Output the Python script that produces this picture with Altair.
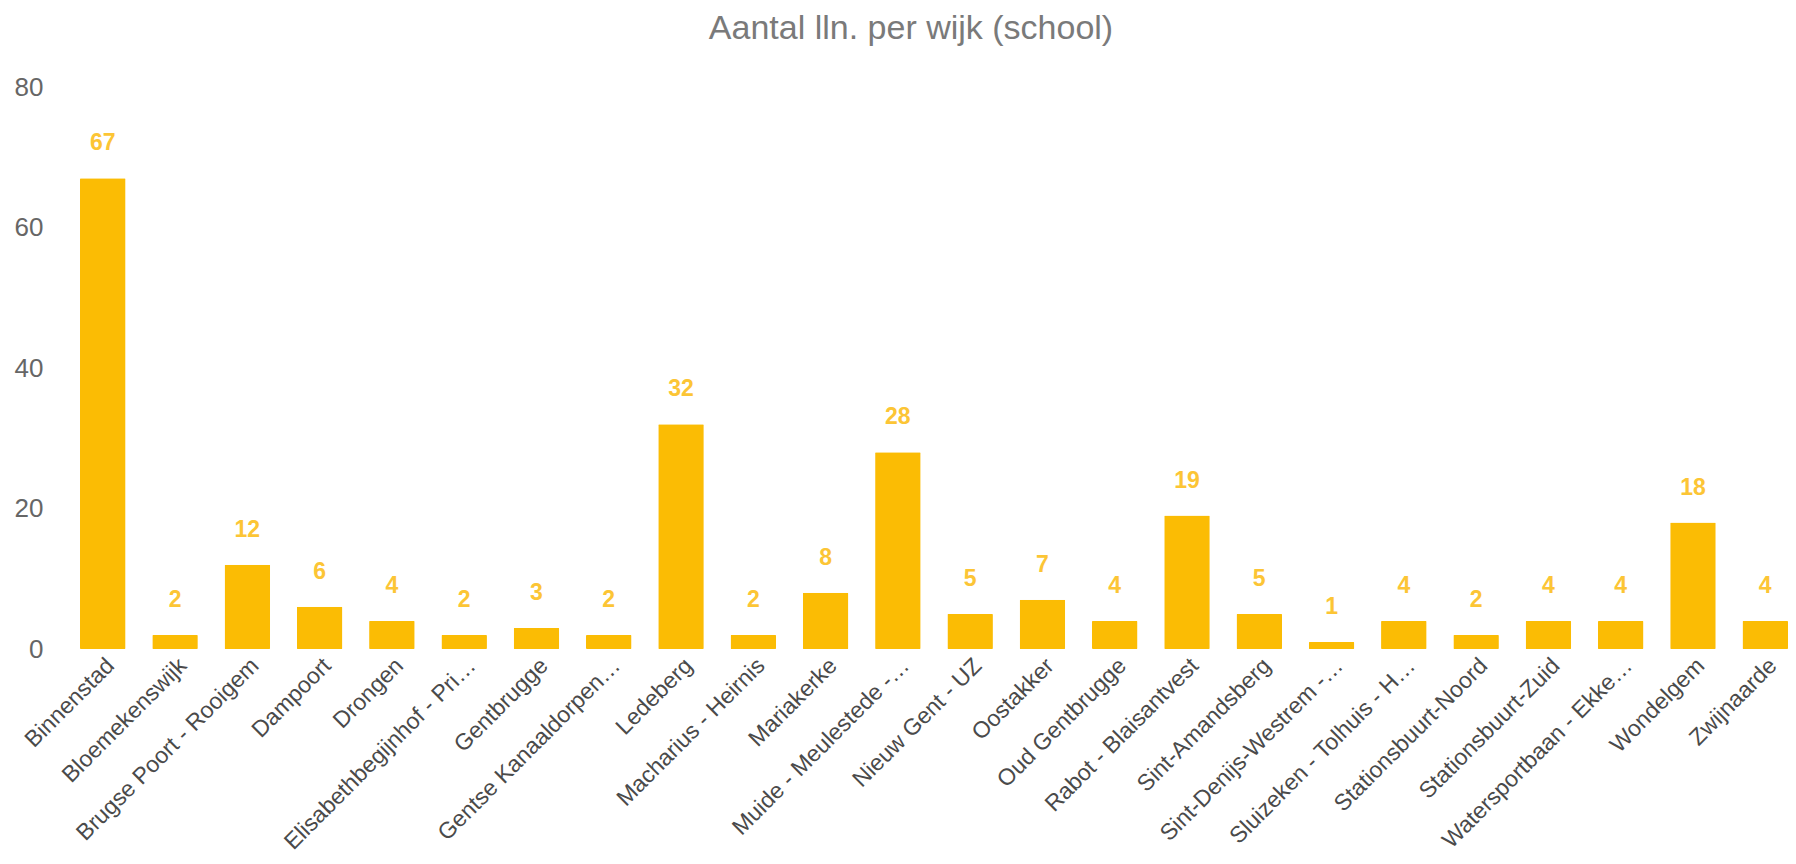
import altair as alt
import pandas as pd

wijken = [
    "Binnenstad", "Bloemekenswijk", "Brugse Poort - Rooigem", "Dampoort", "Drongen",
    "Elisabethbegijnhof - Pri…", "Gentbrugge", "Gentse Kanaaldorpen…", "Ledeberg",
    "Macharius - Heirnis", "Mariakerke", "Muide - Meulestede -…", "Nieuw Gent - UZ",
    "Oostakker", "Oud Gentbrugge", "Rabot - Blaisantvest", "Sint-Amandsberg",
    "Sint-Denijs-Westrem -…", "Sluizeken - Tolhuis - H…", "Stationsbuurt-Noord",
    "Stationsbuurt-Zuid", "Watersportbaan - Ekke…", "Wondelgem", "Zwijnaarde",
]
aantal = [67, 2, 12, 6, 4, 2, 3, 2, 32, 2, 8, 28, 5, 7, 4, 19, 5, 1, 4, 2, 4, 4, 18, 4]
y_ticks = [0, 20, 40, 60, 80]

df = pd.DataFrame({"wijk": wijken, "aantal": aantal})

BAR = "#FBBC04"
FONT = "Liberation Sans"

x = alt.X("wijk:N", sort=None, title=None,
          scale=alt.Scale(paddingInner=0.37, paddingOuter=0),
          axis=alt.Axis(labelAngle=-45, labelFontSize=23, labelColor="#4a4a4a",
                        labelFont=FONT, domain=False, ticks=False, labelPadding=5,
                        labelLimit=400))
y = alt.Y("aantal:Q", title=None,
          scale=alt.Scale(domain=[0, 80], nice=False),
          axis=alt.Axis(values=y_ticks, labelFontSize=26, labelColor="#666666",
                        labelFont=FONT, domain=False, ticks=False, grid=False,
                        labelPadding=37))

bars = alt.Chart(df).mark_bar(color=BAR, cornerRadius=1).encode(x=x, y=y)
labels = alt.Chart(df).mark_text(color="#FCC535", fontSize=23, fontWeight="bold",
                                 font=FONT, baseline="alphabetic", dy=-28).encode(
    x=alt.X("wijk:N", sort=None), y="aantal:Q", text="aantal:Q")

chart = (bars + labels).properties(
    width=1708, height=562,
    title=alt.TitleParams("Aantal lln. per wijk (school)", fontSize=34, font=FONT,
                          fontWeight="normal", color="#7a7a7a", anchor="middle",
                          dx=-23, offset=28),
    autosize=alt.AutoSizeParams(type="none"),
    padding={"left": 72, "top": 79, "right": 0, "bottom": 207},
).configure_view(stroke=None)

chart.save("out.html", embed_options={"renderer": "svg", "actions": False})
